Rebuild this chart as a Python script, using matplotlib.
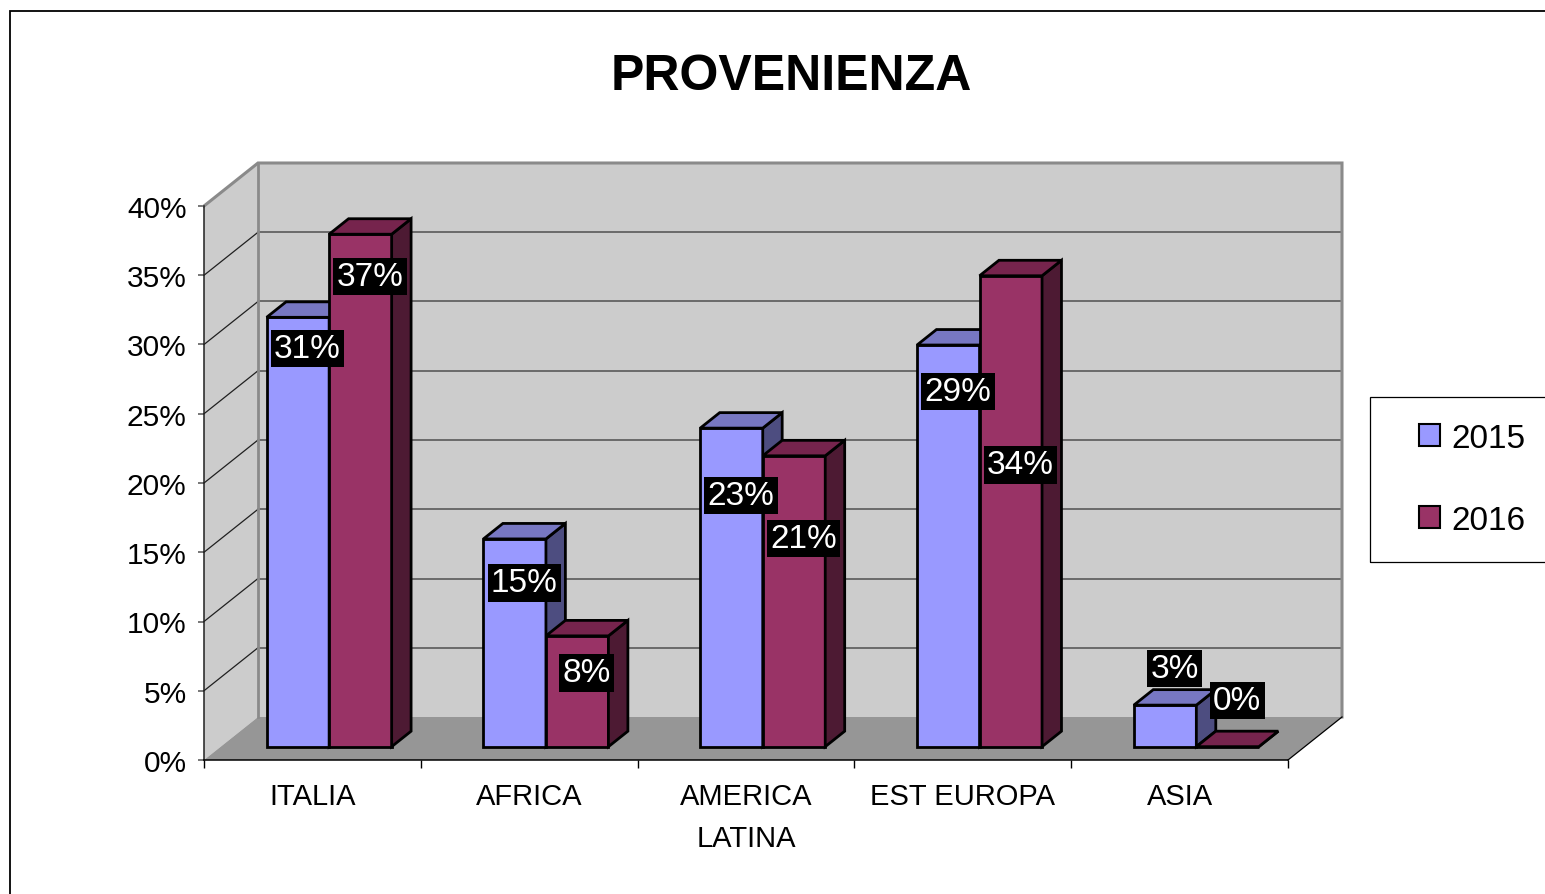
import matplotlib
matplotlib.use('Agg')
import matplotlib.pyplot as plt
from matplotlib.patches import Polygon, Rectangle, Patch

# ---------------- data ----------------
categories = ['ITALIA', 'AFRICA', 'AMERICA\nLATINA', 'EST EUROPA', 'ASIA']
series_names = ['2015', '2016']
values_2015 = [31, 15, 23, 29, 3]
values_2016 = [37, 8, 21, 34, 0]
y_ticks = [0, 5, 10, 15, 20, 25, 30, 35, 40]
y_tick_labels = ['0%', '5%', '10%', '15%', '20%', '25%', '30%', '35%', '40%']
title_text = 'PROVENIENZA'

# layout: height (front-plane percent units) of each data-label centre
label_y_2015 = [29.7, 12.8, 19.1, 26.6, 6.6]
label_y_2016 = [34.9, 6.3, 16.0, 21.3, 4.3]

# ---------------- style ----------------
plt.rcParams['font.family'] = ['Liberation Sans', 'DejaVu Sans']
colors = {
    '2015': dict(front='#9999FF', top='#7777C2', side='#4D4D80'),
    '2016': dict(front='#993366', top='#76244D', side='#4D1A33'),
}
WALL = '#CCCCCC'
FLOOR = '#969696'
BORDER = '#8A8A8A'

W, H = 1545, 895
fig = plt.figure(figsize=(W / 100, H / 100), dpi=100)

# front plane: x 0..5 -> px 204..1288 ; y 0..40 -> px 761..207
x0p, x1p, y0p, y1p = 204, 1288, 761, 207
ax = fig.add_axes([x0p / W, (H - y0p) / H, (x1p - x0p) / W, (y0p - y1p) / H])
ax.set_xlim(0, 5)
ax.set_ylim(0, 40)
ax.set_facecolor('none')

px_per_cat = (x1p - x0p) / 5.0
px_per_pct = (y0p - y1p) / 40.0
DXU = 54 / px_per_cat      # depth offset in category units
DYU = 43 / px_per_pct      # depth offset in percent units
ZB, DZ = 0.31, 0.36        # bar depth start / thickness (fraction)
BW = 62.5 / px_per_cat     # bar width


def P(x, y, z):
    return (x + z * DXU, y + z * DYU)


ymax = y_ticks[-1]
ncat = len(categories)

# walls and floor
ax.add_patch(Polygon([P(0, 0, 1), P(ncat, 0, 1), P(ncat, ymax, 1), P(0, ymax, 1)],
                     closed=True, fc=WALL, ec='none', zorder=1, clip_on=False))
ax.add_patch(Polygon([P(0, 0, 0), P(0, 0, 1), P(0, ymax, 1), P(0, ymax, 0)],
                     closed=True, fc=WALL, ec='none', zorder=1, clip_on=False))
ax.add_patch(Polygon([P(0, 0, 0), P(ncat, 0, 0), P(ncat, 0, 1), P(0, 0, 1)],
                     closed=True, fc=FLOOR, ec='none', zorder=1.5, clip_on=False))

# gridlines
for v in y_ticks[1:-1]:
    a, b = P(0, v, 1), P(ncat, v, 1)
    ax.plot([a[0], b[0]], [a[1], b[1]], color='#505050', lw=1.1, zorder=2, clip_on=False)
    a, b = P(0, v, 0), P(0, v, 1)
    ax.plot([a[0], b[0]], [a[1], b[1]], color='#202020', lw=0.9, zorder=2, clip_on=False)

# wall borders
pts = [P(0, ymax, 0), P(0, ymax, 1), P(ncat, ymax, 1), P(ncat, 0, 1)]
ax.plot([p[0] for p in pts], [p[1] for p in pts], color=BORDER, lw=2.2, zorder=2.2,
        clip_on=False, solid_joinstyle='miter')
a, b = P(0, 0, 1), P(0, ymax, 1)
ax.plot([a[0], b[0]], [a[1], b[1]], color=BORDER, lw=2.0, zorder=2.2, clip_on=False)
a, b = P(ncat, 0, 0), P(ncat, 0, 1)
ax.plot([a[0], b[0]], [a[1], b[1]], color='black', lw=0.9, zorder=2.2, clip_on=False)


def draw_bar(xl, xr, h, c, zo):
    z0, z1 = ZB, ZB + DZ
    front = [P(xl, 0, z0), P(xr, 0, z0), P(xr, h, z0), P(xl, h, z0)]
    top = [P(xl, h, z0), P(xr, h, z0), P(xr, h, z1), P(xl, h, z1)]
    side = [P(xr, 0, z0), P(xr, 0, z1), P(xr, h, z1), P(xr, h, z0)]
    for poly, fc in ((front, c['front']), (side, c['side']), (top, c['top'])):
        ax.add_patch(Polygon(poly, closed=True, fc=fc, ec='black', lw=2.0,
                             joinstyle='miter', zorder=zo, clip_on=False))


label_style = dict(ha='center', va='center', color='white', fontsize=24,
                   bbox=dict(boxstyle='square,pad=0.1', fc='black', ec='none'),
                   zorder=10, clip_on=False)

for i in range(ncat):
    c = i + 0.5
    draw_bar(c - BW, c, values_2015[i], colors['2015'], 3 + i * 0.1)
    draw_bar(c, c + BW, values_2016[i], colors['2016'], 3.05 + i * 0.1)
    xoff = (ZB + DZ / 2) * DXU
    ax.text(c - BW / 2 + xoff, label_y_2015[i], f'{values_2015[i]}%', **label_style)
    ax.text(c + BW / 2 + xoff, label_y_2016[i], f'{values_2016[i]}%', **label_style)

# axes
for s in ('top', 'right'):
    ax.spines[s].set_visible(False)
ax.spines['left'].set_color('#202020')
ax.spines['left'].set_linewidth(1.1)
ax.spines['bottom'].set_color('black')
ax.spines['bottom'].set_linewidth(1.1)
ax.spines['left'].set_zorder(2.5)
ax.spines['bottom'].set_zorder(2.5)
ax.set_yticks(y_ticks)
ax.set_yticklabels(y_tick_labels, fontsize=21.5)
ax.tick_params(axis='y', direction='out', length=4.5, width=1.2, color='#606060', pad=8)
ax.set_xticks(range(ncat + 1))
ax.set_xticklabels([''] * (ncat + 1))
ax.tick_params(axis='x', which='major', direction='out', length=6, width=1.0, color='black')
ax.set_xticks([i + 0.5 for i in range(ncat)], minor=True)
ax.set_xticklabels(categories, minor=True, fontsize=21, linespacing=1.62)
ax.tick_params(axis='x', which='minor', length=0, pad=16)

# title
fig.text(791 / W, 1 - 90 / H, title_text, ha='center', va='baseline',
         fontsize=36, fontweight='bold')

# legend (content) + frame
handles = [Patch(fc=colors[n]['front'], ec='black', lw=1.5) for n in series_names]
leg = fig.legend(handles, series_names, loc='upper left',
                 bbox_to_anchor=(1419 / W, 1 - 424 / H), frameon=False, fontsize=24,
                 borderpad=0, borderaxespad=0, handlelength=0.62, handleheight=0.62,
                 handletextpad=0.36, labelspacing=1.52)
fig.add_artist(Rectangle((1370 / W, 1 - 563 / H), 0.2, (563 - 398) / H,
                         transform=fig.transFigure, fill=False, ec='black', lw=0.9))

# outer frame
fig.add_artist(Rectangle((10 / W, -0.1), 2, (H - 12) / H + 0.1,
                         transform=fig.transFigure, fill=False, ec='black', lw=1.3))

fig.savefig('out.png', dpi=100)
